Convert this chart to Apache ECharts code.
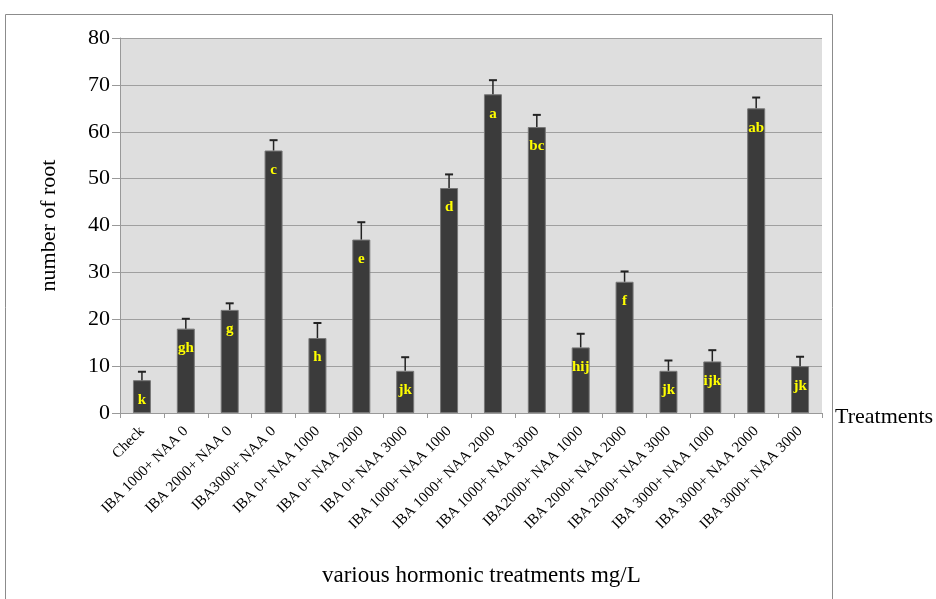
<!DOCTYPE html>
<html>
<head>
<meta charset="utf-8">
<script src="https://cdn.jsdelivr.net/npm/echarts@6/dist/echarts.min.js"></script>
<style>html,body{margin:0;padding:0;background:#fff;}#c{width:936px;height:599px;}</style>
</head>
<body>
<div id="c"></div>
<script>
var categories = ["Check","IBA 1000+ NAA 0","IBA 2000+ NAA 0","IBA3000+ NAA 0","IBA 0+ NAA 1000","IBA 0+ NAA 2000","IBA 0+ NAA 3000","IBA 1000+ NAA 1000","IBA 1000+ NAA 2000","IBA 1000+ NAA 3000","IBA2000+ NAA 1000","IBA 2000+ NAA 2000","IBA 2000+ NAA 3000","IBA 3000+ NAA 1000","IBA 3000+ NAA 2000","IBA 3000+ NAA 3000"];
var values = [7, 18, 22, 56, 16, 37, 9, 48, 68, 61, 14, 28, 9, 11, 65, 10];
var errors = [1.8, 2.1, 1.4, 2.2, 3.2, 3.7, 2.9, 2.9, 3.0, 2.6, 2.9, 2.2, 2.2, 2.4, 2.3, 2.0];
var letters = ["k","gh","g","c","h","e","jk","d","a","bc","hij","f","jk","ijk","ab","jk"];
var yTicks = [0, 10, 20, 30, 40, 50, 60, 70, 80];

var serif = '"Liberation Serif","DejaVu Serif",serif';
var chart = echarts.init(document.getElementById('c'));
chart.setOption({
  animation: false,
  backgroundColor: '#fff',
  graphic: [
    {type: 'rect', shape: {x: 5.5, y: 14.5, width: 827, height: 600}, style: {fill: 'none', stroke: '#8c8c8c', lineWidth: 1}, z: -10},
    {type: 'text', left: 835, top: 406, style: {text: 'Treatments', font: '22px ' + serif, fill: '#000'}},
    {type: 'text', left: 322, top: 564, style: {text: 'various hormonic treatments mg/L', font: '23px ' + serif, fill: '#000'}}
  ],
  grid: {left: 120, right: 114, top: 38, bottom: 186, show: true, backgroundColor: '#dedede', borderWidth: 0},
  xAxis: {
    type: 'category',
    data: categories,
    axisLine: {lineStyle: {color: '#999', width: 1}},
    axisTick: {show: true, length: 5, lineStyle: {color: '#999'}},
    axisLabel: {interval: 0, rotate: 45, fontFamily: serif, fontSize: 15, color: '#000', margin: 16}
  },
  yAxis: {
    type: 'value', min: 0, max: 80, interval: 10,
    name: 'number of root', nameLocation: 'middle', nameGap: 60,
    nameTextStyle: {fontFamily: serif, fontSize: 22, color: '#000'},
    axisLine: {show: true, lineStyle: {color: '#999'}},
    axisTick: {show: true, length: 8, inside: false, lineStyle: {color: '#999'}},
    axisLabel: {fontFamily: serif, fontSize: 22, color: '#000', margin: 10,
      formatter: function (v) { return yTicks.indexOf(v) >= 0 ? String(v) : ''; }},
    splitLine: {lineStyle: {color: '#9f9f9f', width: 1}}
  },
  series: [
    {
      type: 'bar', data: values, barWidth: 18,
      itemStyle: {color: '#3b3b3b', borderColor: '#777', borderWidth: 1},
      label: {show: true, position: 'insideTop', distance: 12,
        formatter: function (p) { return letters[p.dataIndex]; },
        color: '#ffff00', fontFamily: serif, fontWeight: 'bold', fontSize: 15}
    },
    {
      type: 'custom',
      data: values.map(function (v, i) { return [i, v, v + errors[i]]; }),
      encode: {x: 0, y: [1, 2]},
      z: 5,
      renderItem: function (params, api) {
        var b = api.coord([api.value(0), api.value(1)]);
        var t = api.coord([api.value(0), api.value(2)]);
        var w = 4;
        return {type: 'group', children: [
          {type: 'line', shape: {x1: b[0], y1: b[1], x2: t[0], y2: t[1]}, style: {stroke: '#222', lineWidth: 1.5}},
          {type: 'line', shape: {x1: t[0] - w, y1: t[1], x2: t[0] + w, y2: t[1]}, style: {stroke: '#222', lineWidth: 2}}
        ]};
      }
    }
  ]
});
</script>
</body>
</html>
